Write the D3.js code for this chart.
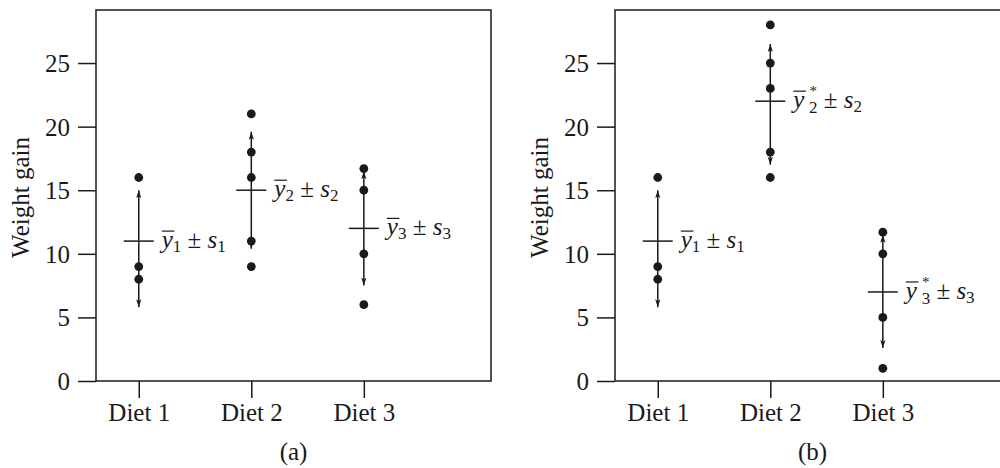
<!DOCTYPE html>
<html>
<head>
<meta charset="utf-8">
<script src="https://cdn.jsdelivr.net/npm/d3@7"></script>
<style>
  body { margin: 0; background: #fff; }
  svg { display: block; }
  svg text { font-family: "Liberation Serif", "Times New Roman", serif; }
</style>
</head>
<body>
<svg width="1000" height="468"></svg>
<script>

// data
const diets = ['Diet 1', 'Diet 2', 'Diet 3']
const yTicks = [0, 5, 10, 15, 20, 25]

const gainsA = [[16, 9, 8], [21, 18, 16, 11, 9], [16.7, 15, 10, 6]]
const meansA = [11, 15, 12]
const lowA = [5.8, 10.4, 7.5]
const highA = [15, 19.6, 16.5]
const starA = [false, false, false]

const gainsB = [[16, 9, 8], [28, 25, 23, 18, 16], [11.7, 10, 5, 1]]
const meansB = [11, 22, 7]
const lowB = [5.8, 17, 2.6]
const highB = [15, 26.5, 11.5]
const starB = [false, true, true]

const ink = '#1a1a1a'
const svg = d3.select('svg')
svg.append('rect').attr('width', 1000).attr('height', 468).attr('fill', '#fff')

svg.append('defs').append('marker')
  .attr('id', 'arrow')
  .attr('viewBox', '-8 -3 8 6')
  .attr('refX', 0).attr('refY', 0)
  .attr('markerWidth', 8).attr('markerHeight', 6)
  .attr('markerUnits', 'userSpaceOnUse')
  .attr('orient', 'auto')
  .append('path')
  .attr('d', 'M0,0L-8,-2.6L-6,0L-8,2.6Z')
  .attr('fill', ink)

function panel(left, tag, gains, means, low, high, star) {
  const w = 395, top = 10, bottom = 381
  const g = svg.append('g').attr('transform', `translate(${left},0)`)
  const y = d3.scaleLinear().domain([0, 29.17]).range([bottom, top])
  const x = d3.scaleLinear().domain([0.62, 4.13]).range([0, w])

  // frame
  g.append('rect')
    .attr('x', 0).attr('y', top).attr('width', w).attr('height', bottom - top)
    .attr('fill', 'none').attr('stroke', ink).attr('stroke-width', 1.5)

  // y axis, ticks outside the frame
  const ya = g.append('g')
    .call(d3.axisLeft(y).tickValues(yTicks).tickSize(18).tickPadding(8))
    .attr('font-family', null).attr('font-size', 25)
  ya.select('.domain').remove()
  ya.selectAll('line').attr('stroke', ink).attr('stroke-width', 1.5)
  ya.selectAll('text').attr('fill', ink).attr('dy', '0.34em')

  // x axis
  const xa = g.append('g').attr('transform', `translate(0,${bottom})`)
    .call(d3.axisBottom(x).tickValues([1, 2, 3]).tickFormat((d) => diets[d - 1]).tickSize(17).tickPadding(5))
    .attr('font-family', null).attr('font-size', 25)
  xa.select('.domain').remove()
  xa.selectAll('line').attr('stroke', ink).attr('stroke-width', 1.5)
  xa.selectAll('text').attr('fill', ink).attr('dy', '0.71em')

  g.append('text')
    .attr('transform', `translate(${-67},${(top + bottom) / 2 + 2}) rotate(-90)`)
    .attr('text-anchor', 'middle').attr('font-size', 25).attr('fill', ink)
    .text('Weight gain')

  g.append('text')
    .attr('x', w / 2).attr('y', 460)
    .attr('text-anchor', 'middle').attr('font-size', 25).attr('fill', ink)
    .text(tag)

  diets.forEach((d, i) => {
    const cx = x(i + 1)
    // arrows from mean to mean ± s
    g.append('line')
      .attr('x1', cx).attr('x2', cx).attr('y1', y(means[i])).attr('y2', y(high[i]))
      .attr('stroke', ink).attr('stroke-width', 1.5).attr('marker-end', 'url(#arrow)')
    g.append('line')
      .attr('x1', cx).attr('x2', cx).attr('y1', y(means[i])).attr('y2', y(low[i]))
      .attr('stroke', ink).attr('stroke-width', 1.5).attr('marker-end', 'url(#arrow)')
    // mean bar
    g.append('line')
      .attr('x1', cx - 15).attr('x2', cx + 15).attr('y1', y(means[i])).attr('y2', y(means[i]))
      .attr('stroke', ink).attr('stroke-width', 1.5)
    // points
    g.selectAll(null).data(gains[i]).enter().append('circle')
      .attr('cx', cx).attr('cy', (v) => y(v)).attr('r', 4.4).attr('fill', ink)

    // label  y-bar_i (*) ± s_i
    const base = y(means[i]) + 7
    const t = g.append('text')
      .attr('x', cx + 23).attr('y', base)
      .attr('font-size', 25).attr('fill', ink)
    t.append('tspan').attr('font-style', 'italic').text('y')
    if (star[i]) {
      t.append('tspan').attr('font-size', 15).attr('dx', 5).attr('dy', -12).text('*')
      t.append('tspan').attr('font-size', 17).attr('dx', -7.8).attr('dy', 17).text(i + 1)
      t.append('tspan').attr('dy', -5).text(' ± ')
    } else {
      t.append('tspan').attr('font-size', 17).attr('dy', 4).text(i + 1)
      t.append('tspan').attr('dy', -4).text(' ± ')
    }
    t.append('tspan').attr('font-style', 'italic').text('s')
    t.append('tspan').attr('font-size', 17).attr('dy', 4).text(i + 1)

    const node = t.node()
    const a = node.getStartPositionOfChar(0), b = node.getEndPositionOfChar(0)
    g.append('line')
      .attr('x1', a.x).attr('x2', b.x + 1.5).attr('y1', base - 17).attr('y2', base - 17)
      .attr('stroke', ink).attr('stroke-width', 1.2)
  })
}

panel(96, '(a)', gainsA, meansA, lowA, highA, starA)
panel(615, '(b)', gainsB, meansB, lowB, highB, starB)

</script>
</body>
</html>
